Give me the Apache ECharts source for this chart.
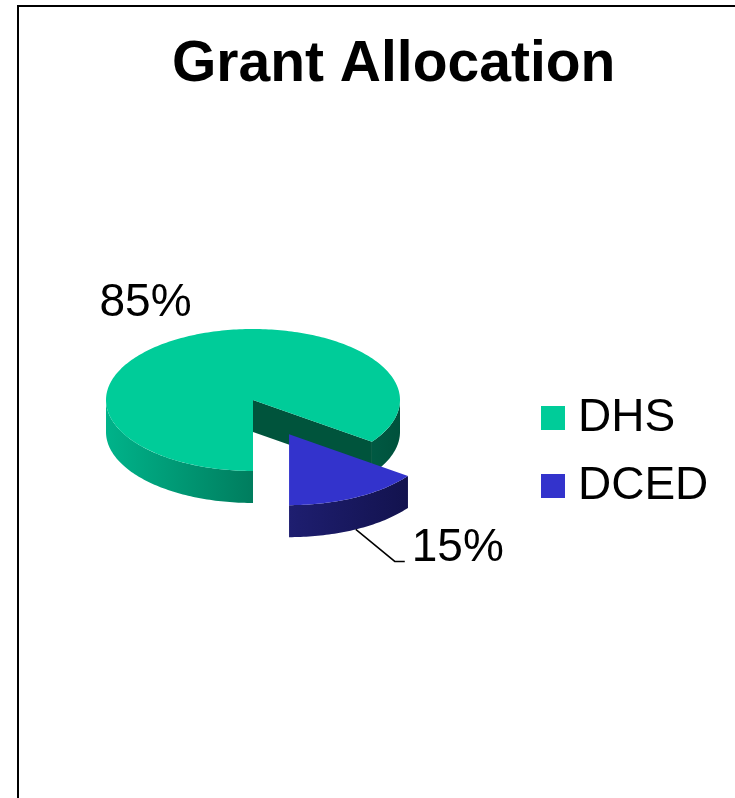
<!DOCTYPE html>
<html>
<head>
<meta charset="utf-8">
<script src="https://cdn.jsdelivr.net/npm/echarts@6/dist/echarts.min.js"></script>
<style>
  html, body { margin: 0; padding: 0; background: #fff; }
  #main { width: 735px; height: 798px; }
</style>
</head>
<body>
<div id="main"></div>
<script>
const categories = ['DHS', 'DCED'];
const values = [85, 15];
const topColors = ['#00CC99', '#3333CC'];
const exploded = [0, 0.54];

const chart = echarts.init(document.getElementById('main'));

// pie geometry (tilted ellipse)
const CX = 253, CY = 400, RX = 147, RY = 71, DEPTH = 32;
const total = values.reduce((s, v) => s + v, 0);
// DHS starts pointing straight down and runs clockwise
let start = Math.PI / 2;
const slices = values.map((v, i) => {
  const a0 = start;
  const a1 = start + (v / total) * Math.PI * 2;
  start = a1;
  return { a0, a1 };
});

const wallColors = [
  [{ offset: 0, color: '#00B38A' }, { offset: 0.5, color: '#007D5E' }, { offset: 1, color: '#00513C' }],
  [{ offset: 0, color: '#2A2A90' }, { offset: 0.5, color: '#1E1E70' }, { offset: 1, color: '#101046' }]
];
const faceColors = ['#00543C', '#1A1A5C'];

function pt(cx, cy, a, k) {
  return [cx + RX * k * Math.cos(a), cy + RY * k * Math.sin(a)];
}
function arc(cx, cy, a, b, dy) {
  const pts = [];
  const n = Math.max(2, Math.ceil((b - a) / 0.02));
  for (let j = 0; j <= n; j++) {
    const t = a + (b - a) * j / n;
    const p = pt(cx, cy, t, 1);
    pts.push([p[0], p[1] + dy]);
  }
  return pts;
}

function renderSlice(idx) {
  const { a0, a1 } = slices[idx];
  const mid = (a0 + a1) / 2;
  const off = pt(0, 0, mid, exploded[idx]);
  const cx = CX + off[0], cy = CY + off[1];
  const children = [];

  // radial cut faces
  const addFace = (a) => {
    const p = pt(cx, cy, a, 1);
    children.push({
      type: 'polygon',
      shape: { points: [[cx, cy], p, [p[0], p[1] + DEPTH], [cx, cy + DEPTH]] },
      style: { fill: faceColors[idx] }
    });
  };
  if (Math.cos(a0) < -0.01) addFace(a0);
  if (Math.cos(a1) > 0.01) addFace(a1);

  // outer wall, front half only
  const grad = new echarts.graphic.LinearGradient(cx - RX, 0, cx + RX, 0, wallColors[idx], true);
  for (let k = -1; k <= 2; k++) {
    const s = Math.max(a0, 2 * Math.PI * k);
    const e = Math.min(a1, 2 * Math.PI * k + Math.PI);
    if (e - s > 0.001) {
      const topArc = arc(cx, cy, s, e, 0);
      const botArc = arc(cx, cy, s, e, DEPTH).reverse();
      children.push({
        type: 'polygon',
        shape: { points: topArc.concat(botArc) },
        style: { fill: grad }
      });
    }
  }

  // top face
  children.push({
    type: 'polygon',
    shape: { points: [[cx, cy]].concat(arc(cx, cy, a0, a1, 0)) },
    style: { fill: topColors[idx] }
  });

  // percentage label
  const pct = Math.round(values[idx] / total * 100) + '%';
  const font = '46px "Liberation Sans", Arial, sans-serif';
  if (idx === 0) {
    const lp = pt(cx, cy, mid, 1.58);
    children.push({
      type: 'text',
      style: { x: lp[0] - 2, y: lp[1] + 3, text: pct, font, fill: '#000', align: 'center', verticalAlign: 'middle' }
    });
  } else {
    const p = pt(cx, cy, mid, 1);
    const p1 = [p[0], p[1] + DEPTH];
    const p2 = [p1[0] + 39, p1[1] + 32];
    const p3 = [p2[0] + 10, p2[1]];
    children.push({
      type: 'polyline',
      shape: { points: [p1, p2, p3] },
      style: { stroke: '#000', lineWidth: 1.5, fill: null }
    });
    children.push({
      type: 'text',
      style: { x: p3[0] + 7, y: p3[1] - 13, text: pct, font, fill: '#000', align: 'left', verticalAlign: 'middle' }
    });
  }

  return { type: 'group', children };
}

const option = {
  backgroundColor: '#fff',
  animation: false,
  title: {
    text: 'Grant Allocation',
    left: 172,
    top: 37,
    padding: 0,
    textStyle: {
      fontFamily: '"Liberation Sans", Arial, sans-serif',
      fontSize: 57,
      fontWeight: 'bold',
      color: '#000'
    }
  },
  legend: {
    orient: 'vertical',
    left: 541,
    top: 395,
    padding: 0,
    icon: 'rect',
    itemWidth: 24,
    itemHeight: 24,
    itemGap: 22,
    data: categories,
    textStyle: {
      fontFamily: '"Liberation Sans", Arial, sans-serif',
      fontSize: 46,
      color: '#000',
      padding: [0, 0, 0, 8]
    }
  },
  graphic: [{
    type: 'rect',
    shape: { x: 18, y: 6, width: 760, height: 820 },
    style: { fill: null, stroke: '#000', lineWidth: 2 },
    silent: true,
    z: -1
  }],
  series: categories.map((name, i) => ({
    name,
    type: 'custom',
    coordinateSystem: 'none',
    itemStyle: { color: topColors[i] },
    data: [values[i]],
    renderItem: () => renderSlice(i)
  }))
};

chart.setOption(option);
</script>
</body>
</html>
